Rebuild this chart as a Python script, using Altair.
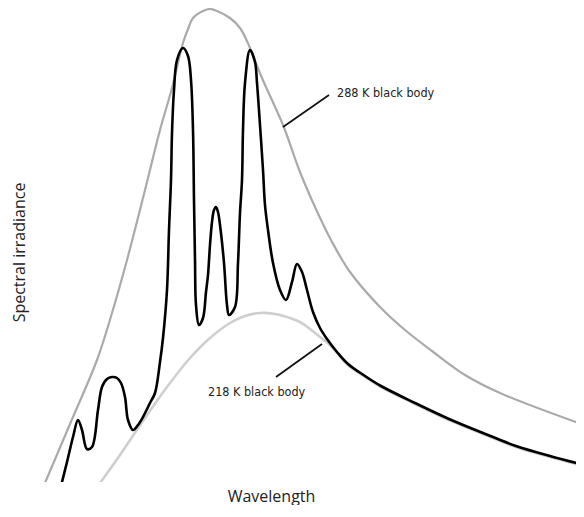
import altair as alt
import pandas as pd

# Values (arbitrary units: wavelength from left, irradiance from bottom)
bb288_x = [2, 30, 57, 72, 87, 105, 120, 132, 143, 148, 153, 163, 170, 177, 190, 200, 207, 222,
           243, 260, 275, 291, 310, 341, 365, 392, 425, 460, 544]
bb288_y = [0, 66, 130, 177, 230, 300, 360, 402, 447, 461, 472, 479, 481, 479, 472, 462, 449, 412,
           365, 318, 283, 250, 218, 182, 160, 139, 115, 97, 65]

bb218_x = [55, 80, 105, 127, 150, 170, 190, 205, 220, 235, 250, 260, 270, 280, 290, 297, 308,
           325, 341, 375, 409, 443, 476, 510, 544]
bb218_y = [0, 35, 72, 103, 132, 152, 167, 174, 177, 176, 172, 168, 161, 153, 145, 137, 125,
           113, 103, 86, 70, 56, 43, 33, 24]

spec_x = [20, 27, 33, 38, 42, 47, 52, 58, 62, 67, 72, 77, 81, 85, 88, 93, 98, 103, 110, 115,
          120, 123, 127, 129, 131, 132, 134, 137, 143, 148, 151, 153, 154, 155, 156, 159, 163,
          166, 168, 170, 172, 174, 176, 178, 180, 184, 187, 189, 195, 198, 200, 202, 203, 205,
          210, 215, 217, 220, 223, 225, 228, 233, 240, 246, 252, 257, 262, 267, 273, 280, 287,
          297, 308, 325, 341, 375, 409, 443, 476, 510, 544]
spec_y = [0, 28, 53, 70, 60, 41, 43, 80, 103, 111, 113, 112, 107, 93, 70, 60, 65, 73, 87, 97,
          128, 152, 200, 260, 310, 357, 400, 430, 442, 434, 410, 360, 290, 230, 185, 165, 172,
          198, 215, 245, 268, 280, 283, 278, 265, 227, 185, 175, 183, 227, 277, 310, 360, 407,
          440, 428, 407, 365, 320, 285, 260, 227, 200, 190, 208, 226, 218, 200, 178, 162, 151,
          138, 126, 114, 104, 87, 71, 57, 44, 34, 25]

labels = ["288 K black body", "218 K black body"]
label_x = [297, 168]
label_y = [397, 98]
lead_x = [243, 236]
lead_y = [363, 113]
lead_x2 = [289, 282]
lead_y2 = [395, 146]

d288 = pd.DataFrame({"w": bb288_x, "e": bb288_y})
d218 = pd.DataFrame({"w": bb218_x, "e": bb218_y})
dspec = pd.DataFrame({"w": spec_x, "e": spec_y})
dlab = pd.DataFrame({"t": labels, "x": label_x, "y": label_y})
dlead = pd.DataFrame({"x": lead_x, "y": lead_y, "x2": lead_x2, "y2": lead_y2})

xs = alt.Scale(domain=[0, 536], nice=False, zero=False)
ys = alt.Scale(domain=[8, 482], nice=False, zero=False)

xax = alt.Axis(title="Wavelength", labels=False, ticks=False, domain=False, grid=False,
               titleFont="Open Sans", titleFontSize=16, titleFontWeight="normal",
               titleColor="#222", titleX=231, titleY=14, titleBaseline="middle")
yax = alt.Axis(title="Spectral irradiance", labels=False, ticks=False, domain=False, grid=False,
               titleFont="Open Sans", titleFontSize=16, titleFontWeight="normal",
               titleColor="#222", titleX=-21, titleY=244, titleBaseline="middle")

enc_x = alt.X("w:Q", scale=xs, axis=xax)
enc_y = alt.Y("e:Q", scale=ys, axis=yax)

l288 = alt.Chart(d288).mark_line(color="#aaaaaa", strokeWidth=2.2, interpolate="catmull-rom",
                                 clip=True).encode(x=enc_x, y=enc_y)
l218 = alt.Chart(d218).mark_line(color="#cfcfcf", strokeWidth=2.6, interpolate="catmull-rom",
                                 clip=True).encode(x="w:Q", y="e:Q")
lspec = alt.Chart(dspec).mark_line(color="#000000", strokeWidth=2.6, interpolate="catmull-rom",
                                   clip=True).encode(x="w:Q", y="e:Q")
leads = alt.Chart(dlead).mark_rule(color="#111111", strokeWidth=1.8).encode(
    x="x:Q", y="y:Q", x2="x2:Q", y2="y2:Q")
texts = alt.Chart(dlab).mark_text(align="left", baseline="middle",
                                  font="DejaVu Sans Condensed, DejaVu Sans, sans-serif",
                                  fontSize=12.5, color="#222").encode(x="x:Q", y="y:Q", text="t:N")

chart = alt.layer(l218, l288, lspec, leads, texts).properties(
    width=536, height=474,
    autosize=alt.AutoSizeParams(type="none"),
    padding={"left": 32, "top": 0, "right": 0, "bottom": 23},
).configure_view(stroke=None)

chart.save("out.html", embed_options={"renderer": "svg", "actions": False})
